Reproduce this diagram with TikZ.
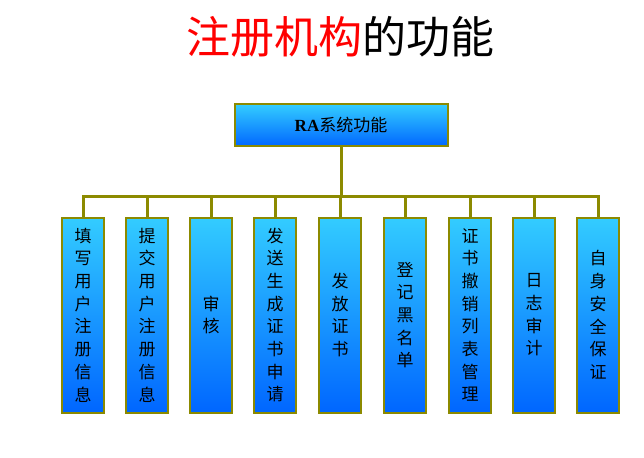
\documentclass[tikz,border=0pt]{standalone}
\usepackage{fontspec}
\setmainfont{Liberation Serif}
\newfontfamily\cjk{Noto Sans CJK SC}
\definecolor{olivebd}{HTML}{8C8A00}
\definecolor{topc}{HTML}{33CCFF}
\definecolor{botc}{HTML}{0066FF}
\definecolor{titlered}{HTML}{FF0000}
\tikzset{
  boxbase/.style={draw=olivebd, line width=2pt, top color=topc, bottom color=botc, inner sep=0pt},
  leafbox/.style={boxbase, minimum width=42pt, minimum height=195pt, align=center,
     font=\cjk\fontsize{17}{22.7}\selectfont},
  rootbox/.style={boxbase, minimum width=213pt, minimum height=42pt, font=\fontsize{17}{20}\selectfont},
  conn/.style={draw=olivebd, line width=3pt}
}
\begin{document}
\begin{tikzpicture}[x=1pt,y=-1pt]
\useasboundingbox (0,0) rectangle (644,457);
\fill[white] (0,0) rectangle (644,457);
\node (title) at (340,37) {\cjk\fontsize{44}{50}\selectfont\textcolor{titlered}{注册机构}的功能};
\node[rootbox] (root) at (341,125.5) {\textbf{RA}{\cjk 系统功能}};
\coordinate (bar) at (341,196);
\node[leafbox] (b1) at (83,315) {填\\写\\用\\户\\注\\册\\信\\息};
\node[leafbox] (b2) at (147,315) {提\\交\\用\\户\\注\\册\\信\\息};
\node[leafbox] (b3) at (211,315) {审\\核};
\node[leafbox] (b4) at (275,315) {发\\送\\生\\成\\证\\书\\申\\请};
\node[leafbox] (b5) at (340,315) {发\\放\\证\\书};
\node[leafbox] (b6) at (405,315) {登\\记\\黑\\名\\单};
\node[leafbox] (b7) at (470,315) {证\\书\\撤\\销\\列\\表\\管\\理};
\node[leafbox] (b8) at (534,315) {日\\志\\审\\计};
\node[leafbox] (b9) at (598,315) {自\\身\\安\\全\\保\\证};
\draw[conn] (root.south) -- (bar);
\foreach \i in {1,...,9} {\draw[conn] (b\i.north) |- (bar);}
\end{tikzpicture}
\end{document}
